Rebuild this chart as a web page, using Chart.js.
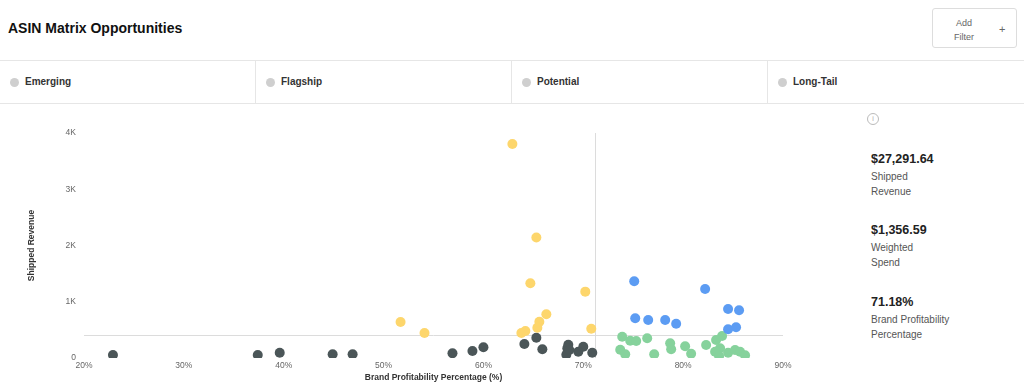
<!DOCTYPE html>
<html>
<head>
<meta charset="utf-8">
<script src="https://cdn.jsdelivr.net/npm/chart.js@4"></script>
<style>
  body { margin: 0; background: #fff; font-family: "Liberation Sans", Arial, sans-serif; }
  #page { position: relative; width: 1024px; height: 390px; overflow: hidden; }
  .title { position: absolute; left: 8px; top: 20px; font-size: 14px; font-weight: bold; color: #111; }
  .btn { position: absolute; left: 932px; top: 8px; width: 85px; height: 40px; box-sizing: border-box;
         border: 1px solid #ddd; border-radius: 3px; color: #666; font-size: 9px; }
  .btn .lbl { position: absolute; left: 20px; top: 7px; width: 22px; text-align: center; line-height: 14px; }
  .btn .plus { position: absolute; left: 66px; top: 14px; font-size: 11px; }
  .tabs { position: absolute; left: 0; top: 60px; width: 1024px; height: 44px; box-sizing: border-box;
          border-top: 1px solid #e6e6e6; border-bottom: 1px solid #e6e6e6; }
  .tab { position: absolute; top: 0; height: 43px; box-sizing: border-box; border-right: 1px solid #e6e6e6; }
  .tab .dot { position: absolute; left: 10px; top: 17px; width: 9px; height: 9px; border-radius: 50%; background: #cfcfcf; }
  .tab .txt { position: absolute; left: 25px; top: 15px; font-size: 10px; font-weight: bold; color: #333; }
  .info { position: absolute; left: 867px; top: 113px; width: 10px; height: 10px; border: 1px solid #bbb; border-radius: 50%;
          font-size: 7px; color: #aaa; text-align: center; line-height: 10px; }
  .stat { position: absolute; left: 871px; }
  .stat .v { font-size: 12.5px; font-weight: bold; color: #222; line-height: 16px; }
  .stat .l { font-size: 10px; color: #555; line-height: 15px; margin-top: 2px; }
  #chartWrap { position: absolute; left: 0; top: 110px; }
</style>
</head>
<body>
<div id="page">
  <div class="title">ASIN Matrix Opportunities</div>
  <div class="btn"><div class="lbl">Add<br>Filter</div><div class="plus">+</div></div>
  <div class="tabs">
    <div class="tab" style="left:0;width:256px"><div class="dot"></div><div class="txt">Emerging</div></div>
    <div class="tab" style="left:256px;width:256px"><div class="dot"></div><div class="txt">Flagship</div></div>
    <div class="tab" style="left:512px;width:256px"><div class="dot"></div><div class="txt">Potential</div></div>
    <div class="tab" style="left:768px;width:256px;border-right:none"><div class="dot"></div><div class="txt">Long-Tail</div></div>
  </div>
  <div class="info">i</div>
  <div class="stat" style="top:151px"><div class="v">$27,291.64</div><div class="l">Shipped<br>Revenue</div></div>
  <div class="stat" style="top:222px"><div class="v">$1,356.59</div><div class="l">Weighted<br>Spend</div></div>
  <div class="stat" style="top:294px"><div class="v">71.18%</div><div class="l">Brand Profitability<br>Percentage</div></div>
  <div id="chartWrap"><canvas id="matrix" width="860" height="280"></canvas></div>
</div>
<script>
// profitability (%) / shipped revenue per ASIN, grouped by segment
const emergingX = [51.7, 54.1, 62.9, 65.3, 64.7, 70.2, 66.3, 65.6, 65.4, 63.8, 64.2, 70.8];
const emergingY = [640, 445, 3803, 2141, 1329, 1180, 778, 646, 539, 445, 480, 521];

const flagshipX = [75.1, 82.2, 75.2, 76.5, 78.2, 79.3, 84.5, 85.6, 84.5, 85.3];
const flagshipY = [1365, 1228, 706, 676, 676, 610, 872, 849, 510, 546];

const potentialX = [73.9, 74.7, 75.3, 76.4, 73.7, 74.2, 77.1, 78.7, 78.8, 80.2, 80.8, 82.3, 83.3, 83.9, 83.7, 83.2, 83.6, 84.5, 85.2, 85.7, 86.2];
const potentialY = [379, 308, 302, 350, 148, 66, 66, 262, 155, 208, 77, 231, 320, 391, 172, 112, 36, 94, 142, 112, 47];

const longTailX = [22.9, 37.4, 39.6, 44.9, 46.9, 56.9, 58.9, 60.0, 65.3, 64.1, 65.9, 68.5, 68.4, 68.3, 68.6, 70.0, 69.5, 70.9];
const longTailY = [53, 53, 94, 66, 66, 84, 125, 190, 361, 249, 155, 237, 173, 59, 142, 201, 112, 94];

const avgProfit = 71.18;
const avgRevenue = 410;

function toPoints(xs, ys) {
  return xs.map((x, i) => ({ x: x, y: ys[i] }));
}

const tickFont = { family: "'Liberation Sans', Arial, sans-serif", size: 8.5 };
const titleFont = { family: "'Liberation Sans', Arial, sans-serif", size: 8.5, weight: "bold" };

// average lines splitting the quadrants
const quadrantLines = {
  id: "quadrantLines",
  beforeDatasetsDraw(chart) {
    const { ctx, chartArea, scales } = chart;
    const xp = scales.x.getPixelForValue(avgProfit);
    const yp = scales.y.getPixelForValue(avgRevenue);
    ctx.save();
    ctx.strokeStyle = "#dcdcdc";
    ctx.lineWidth = 1;
    ctx.beginPath();
    ctx.moveTo(Math.round(xp) + 0.5, chartArea.top);
    ctx.lineTo(Math.round(xp) + 0.5, chartArea.bottom);
    ctx.moveTo(chartArea.left, Math.round(yp) + 0.5);
    ctx.lineTo(chartArea.right, Math.round(yp) + 0.5);
    ctx.stroke();
    ctx.restore();
  },
};

const configMatrix = {
  type: "scatter",
  data: {
    datasets: [
      { label: "Emerging", data: toPoints(emergingX, emergingY), backgroundColor: "#fdd66c" },
      { label: "Flagship", data: toPoints(flagshipX, flagshipY), backgroundColor: "#5c9cf3" },
      { label: "Potential", data: toPoints(potentialX, potentialY), backgroundColor: "#86d29c" },
      { label: "Long-Tail", data: toPoints(longTailX, longTailY), backgroundColor: "#4b5658" },
    ],
  },
  plugins: [quadrantLines],
  options: {
    responsive: false,
    animation: false,
    elements: { point: { radius: 5, borderWidth: 0, hoverRadius: 5 } },
    layout: { padding: { top: 23, right: 77, left: 0, bottom: 0 } },
    scales: {
      x: {
        type: "linear",
        min: 20,
        max: 90,
        grid: { display: false, drawTicks: false },
        border: { display: false },
        ticks: {
          stepSize: 10,
          padding: 3,
          color: "#666",
          font: tickFont,
          callback: (v) => v + "%",
        },
        title: {
          display: true,
          text: "Brand Profitability Percentage (%)",
          color: "#333",
          font: titleFont,
          padding: { top: 0, bottom: 7 },
        },
        afterFit: (scale) => { scale.height = 32; },
      },
      y: {
        min: 0,
        max: 4000,
        grid: { display: false, drawTicks: false },
        border: { display: false },
        ticks: {
          stepSize: 1000,
          padding: 8,
          color: "#666",
          font: tickFont,
          callback: (v) => (v === 0 ? "0" : v / 1000 + "K"),
        },
        title: {
          display: true,
          text: "Shipped Revenue",
          color: "#333",
          font: titleFont,
          padding: { top: 27, bottom: 0 },
        },
        afterFit: (scale) => { scale.width = 84; },
      },
    },
    plugins: {
      legend: { display: false },
      tooltip: { enabled: false },
    },
  },
};

var matrixChart = new Chart(document.getElementById("matrix"), configMatrix);
</script>
</body>
</html>
